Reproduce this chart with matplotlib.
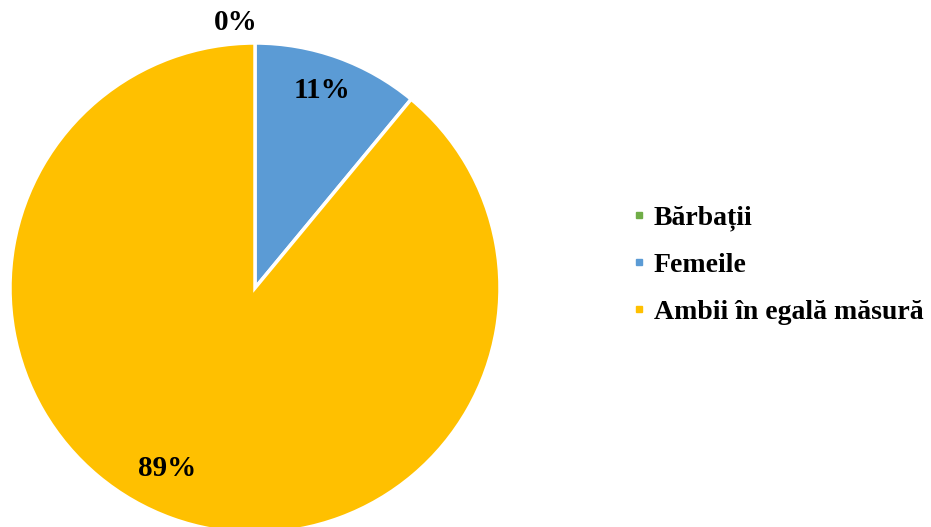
import matplotlib
matplotlib.use("Agg")
import matplotlib.pyplot as plt
from matplotlib.lines import Line2D

categories = ["Bărbații", "Femeile", "Ambii în egală măsură"]
values = [0, 11, 89]
labels = ["0%", "11%", "89%"]
colors = ["#70AD47", "#5B9BD5", "#FFC000"]

W, H = 931, 527
fig = plt.figure(figsize=(W / 100, H / 100), dpi=100)
ax = fig.add_axes([0, 0, 1, 1])

cx, cy, r = 255, H - 288, 245
wedges, _ = ax.pie(values, colors=colors, startangle=90, counterclock=False,
                   center=(cx, cy), radius=r,
                   wedgeprops=dict(edgecolor="white", linewidth=2.5))
ax.set_xlim(0, W)
ax.set_ylim(0, H)
ax.set_aspect("equal")
ax.axis("off")

font = dict(family="Liberation Serif", weight="bold", size=21, color="black")
label_pos = [(236, H - 22), (322, H - 90), (167, H - 468)]
for (x, y), t in zip(label_pos, labels):
    ax.text(x, y, t, ha="center", va="center", **font)

handles = [Line2D([0], [0], marker="s", color="none", markerfacecolor=c,
                  markeredgecolor=c, markersize=5) for c in colors]
leg = fig.legend(handles, categories, loc="center left",
                 bbox_to_anchor=(608 / W, (H - 265) / H),
                 frameon=False, handlelength=0.4, handletextpad=0.35,
                 labelspacing=0.78,
                 prop=dict(family="Liberation Serif", weight="bold", size=20))

fig.savefig("out.png", dpi=100)
